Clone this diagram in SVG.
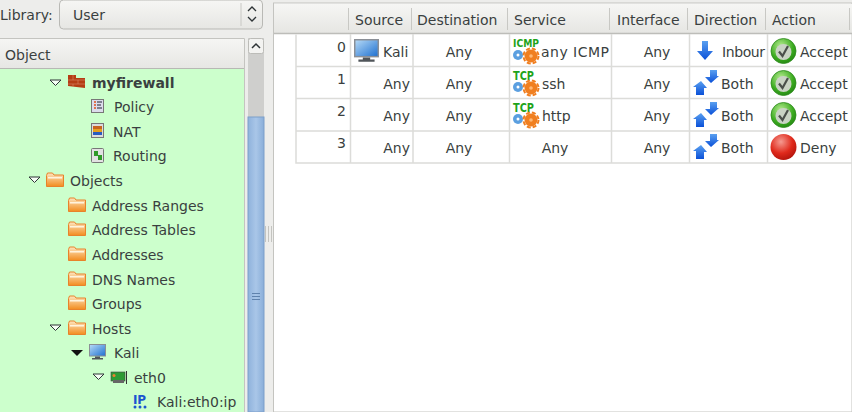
<svg xmlns="http://www.w3.org/2000/svg" width="852" height="412" viewBox="0 0 852 412">
<style>
text{font-family:"DejaVu Sans",sans-serif;font-size:14px;fill:#3a3f40}
.b{font-weight:bold}
.m{text-anchor:middle}
.e{text-anchor:end}
.grid{stroke:#dcdcd9;stroke-width:1.5;fill:none}
.sep{stroke:#c8c8c4;stroke-width:1}
.proto{font-weight:bold;fill:#1fa31a}
.tcp{font-size:12px}
.icmp{font-size:11px}
</style>
<defs>
<linearGradient id="hdr" x1="0" y1="0" x2="0" y2="1"><stop offset="0" stop-color="#f6f6f4"/><stop offset="1" stop-color="#e6e6e3"/></linearGradient>
<linearGradient id="thumb" x1="0" y1="0" x2="1" y2="0"><stop offset="0" stop-color="#8fb2dc"/><stop offset=".5" stop-color="#a9c6e8"/><stop offset="1" stop-color="#8aaed9"/></linearGradient>
<linearGradient id="fold" x1="0" y1="0" x2="0" y2="1"><stop offset="0" stop-color="#fde6c0"/><stop offset="1" stop-color="#f28c1e"/></linearGradient>
<linearGradient id="scr" x1="0" y1="0" x2="1" y2="1"><stop offset="0" stop-color="#b9dcf7"/><stop offset="1" stop-color="#1c6fd0"/></linearGradient>
<radialGradient id="grn" cx=".4" cy=".3" r=".8"><stop offset="0" stop-color="#b6ec90"/><stop offset=".6" stop-color="#3cab20"/><stop offset="1" stop-color="#1f7f10"/></radialGradient>
<radialGradient id="red" cx=".4" cy=".3" r=".8"><stop offset="0" stop-color="#f59a90"/><stop offset=".55" stop-color="#e02a1c"/><stop offset="1" stop-color="#a80f08"/></radialGradient>
<linearGradient id="arr" x1="0" y1="0" x2="0" y2="1"><stop offset="0" stop-color="#5aa0f0"/><stop offset="1" stop-color="#0a50d8"/></linearGradient>
<g id="folder"><path d="M0.5 3.5V14.500H17.500V3H8L6.500 1H1.500Z" fill="url(#fold)" stroke="#e8822a"/><rect x="2" y="5" width="14" height="1.500" fill="#fff3dd"/></g>
<g id="screenS"><rect x="0.5" y="0.5" width="16" height="11.500" fill="url(#scr)" stroke="#8a8f96"/><path d="M6 12.500H11V14H14V15.500H3V14H6Z" fill="#50555a"/></g>
<g id="svc"><circle cx="5" cy="0" r="5" fill="#5b9fe0"/><circle cx="5" cy="0" r="1.500" fill="#fff"/><circle cx="18" cy="1" r="6.500" fill="#f07f20"/><circle cx="18" cy="1" r="7.500" fill="none" stroke="#f07f20" stroke-width="2" stroke-dasharray="4 2"/><circle cx="18" cy="1" r="1.800" fill="#ffb874"/></g>
<g id="ok"><circle cx="13" cy="13" r="12.500" fill="url(#grn)" stroke="#2c8a1c" stroke-width=".8"/><circle cx="13" cy="14" r="8" fill="#c9d3c4"/><path d="M8.500 13.500L12 18L17.500 8" fill="none" stroke="#4a4f4a" stroke-width="2.200"/></g>
<g id="both"><path d="M0 17L8 11L14 18H11V25H3V17Z" fill="url(#arr)"/><path d="M17 0H24V6H26L18 13L12 7H17Z" fill="url(#arr)"/></g>
</defs>
<rect width="852" height="412" fill="#ededeb"/>

<g id="library">
<text x="0" y="20">Library:</text>
<rect x="59.500" y="0" width="203" height="29" rx="4" fill="url(#hdr)" stroke="#b9b9b5"/>
<text x="73" y="20">User</text>
<line x1="241" y1="3" x2="241" y2="26" class="sep"/>
<path d="M248 11L252 7L256 11M248 17L252 21L256 17" fill="none" stroke="#2e3436" stroke-width="1.300"/>
</g>

<g id="object-panel">
<rect x="0" y="38" width="245" height="31" fill="url(#hdr)"/>
<path d="M0 38.500H244.500V412" fill="none" stroke="#c4c4c0"/>
<line x1="0" y1="68.500" x2="244" y2="68.500" stroke="#b8b8b4"/>
<text x="5" y="60">Object</text>
<rect x="0" y="69" width="244" height="343" fill="#ccffcc"/>
</g>

<g id="scrollbar">
<rect x="248" y="38" width="16" height="374" fill="#cfcfcd"/>
<rect x="248.500" y="38.500" width="15" height="15" rx="2" fill="#f3f3f1" stroke="#bcbcb8"/>
<path d="M252 48L256 44L260 48" fill="none" stroke="#2e3436" stroke-width="1.500"/>
<rect x="248" y="117" width="16" height="295" fill="url(#thumb)" stroke="#7d9fca"/>
<path d="M252 293.500H260M252 296.500H260M252 299.500H260" stroke="#5f82ad"/>
</g>

<g id="tree-myfirewall">
<path d="M50 80H61L55.500 85.500Z" fill="#f5fff5" stroke="#2e3436"/>
<path d="M68 75H76V78H85V88L68 86Z" fill="#b53d14"/>
<path d="M68 80H85M68 84H85M73 75V80M78 80V84M73 84V87" stroke="#d98a68" stroke-width=".6" fill="none"/>
<text x="92" y="88" class="b">myfirewall</text>
</g>
<g id="tree-policy">
<rect x="91.500" y="99.500" width="12" height="13" fill="#dcdcec" stroke="#777"/>
<path d="M94 102H96M94 105H96M94 108H96" stroke="#e0501c" stroke-width="1.500"/><path d="M97 102H102M97 105H101M97 108H102" stroke="#223" stroke-width="1"/>
<text x="114" y="112">Policy</text></g>
<g id="tree-nat">
<rect x="91.500" y="123.500" width="12" height="14" fill="#dcdcdc" stroke="#777"/>
<rect x="93" y="126" width="9" height="3" fill="#c8641e"/><rect x="93" y="129" width="9" height="3" fill="#e6a020"/><rect x="93" y="132" width="9" height="3" fill="#2a5cc0"/>
<text x="113" y="137">NAT</text></g>
<g id="tree-routing">
<rect x="91.500" y="148.500" width="12" height="14" rx="1" fill="#e2e2e2" stroke="#777"/>
<path d="M94 151H98V155H102V160H98V156H94Z" fill="#2f9a28"/>
<text x="113" y="161">Routing</text></g>
<g id="tree-objects">
<path d="M29 177H40L34.500 182.500Z" fill="#f5fff5" stroke="#2e3436"/>
<use href="#folder" x="46" y="172"/>
<text x="70" y="186">Objects</text></g>
<g id="tree-address-ranges"><use href="#folder" x="68" y="197"/><text x="92" y="211">Address Ranges</text></g>
<g id="tree-address-tables"><use href="#folder" x="68" y="221"/><text x="92" y="235">Address Tables</text></g>
<g id="tree-addresses"><use href="#folder" x="68" y="246"/><text x="92" y="260">Addresses</text></g>
<g id="tree-dns"><use href="#folder" x="68" y="271"/><text x="92" y="285">DNS Names</text></g>
<g id="tree-groups"><use href="#folder" x="68" y="295"/><text x="92" y="309">Groups</text></g>
<g id="tree-hosts">
<path d="M50 325H61L55.500 330.500Z" fill="#f5fff5" stroke="#2e3436"/>
<use href="#folder" x="68" y="320"/><text x="92" y="334">Hosts</text></g>
<g id="tree-kali">
<path d="M71 350H83L77 356Z" fill="#111"/>
<use href="#screenS" x="89" y="344"/><text x="114" y="358">Kali</text></g>
<g id="tree-eth0">
<path d="M93 374H104L98.500 379.500Z" fill="#f5fff5" stroke="#2e3436"/>
<rect x="111" y="372" width="14" height="9" fill="#2d9a34" stroke="#444" stroke-width=".6"/><rect x="113" y="380" width="11" height="3" fill="#666"/><line x1="126.500" y1="371" x2="126.500" y2="384" stroke="#333"/><circle cx="114" cy="375.500" r="1.500" fill="#f08030"/>
<text x="134" y="383">eth0</text></g>
<g id="tree-ip">
<text x="133" y="404" style="font-size:12px;font-weight:bold;fill:#1a55d0" textLength="13">IP</text>
<g fill="#1a55d0"><circle cx="135" cy="407" r="1.500"/><circle cx="140" cy="407" r="1.500"/><circle cx="145" cy="407" r="1.500"/></g>
<text x="157" y="407">Kali:eth0:ip</text></g>

<g id="splitter" fill="#c4c4c0"><rect x="265" y="226" width="1" height="16"/><rect x="268" y="226" width="1" height="16"/><rect x="271" y="226" width="1" height="16"/></g>

<g id="rules-header">
<rect x="273.500" y="3" width="578.500" height="409" fill="#fff" stroke="#c4c4c0"/>
<rect x="274" y="4" width="578" height="29" fill="url(#hdr)"/>
<line x1="274" y1="33.500" x2="852" y2="33.500" stroke="#bdbdb9" stroke-width="1.500"/>
<path d="M348.500 8V30M411.500 8V30M507.500 8V30M609.500 8V30M687.500 8V30M765.500 8V30M849.500 8V30" class="sep"/>
<text x="355" y="25">Source</text>
<text x="417" y="25">Destination</text>
<text x="514" y="25">Service</text>
<text x="617" y="25">Interface</text>
<text x="694" y="25">Direction</text>
<text x="772" y="25">Action</text>
</g>

<g id="rules-grid" class="grid">
<path d="M296 34.500V163H852M296 66.500H852M296 98.500H852M296 131H852"/>
<path d="M350.500 34V163M413 34V163M509.500 34V163M611.500 34V163M689.500 34V163M767.500 34V163"/>
</g>

<g id="rule-0">
<text x="346" y="52" class="e">0</text>
<use href="#screenS" transform="translate(354 39) scale(1.470)"/>
<text x="383" y="57">Kali</text>
<text x="459" y="57" class="m">Any</text>
<text x="513" y="47" class="proto icmp" textLength="26" lengthAdjust="spacingAndGlyphs">ICMP</text>
<use href="#svc" x="513" y="55"/>
<text x="541" y="57" textLength="68">any ICMP</text>
<text x="657" y="57" class="m">Any</text>
<path d="M702 41H708V51H713L705 60L697 51H702Z" fill="url(#arr)"/>
<text x="722" y="57" textLength="43">Inbour</text>
<use href="#ok" x="770.500" y="38"/>
<text x="800" y="57">Accept</text>
</g>
<g id="rule-1">
<text x="346" y="84" class="e">1</text>
<text x="410" y="89" class="e">Any</text>
<text x="459" y="89" class="m">Any</text>
<text x="513" y="80" class="proto tcp" textLength="21" lengthAdjust="spacingAndGlyphs">TCP</text>
<use href="#svc" x="513" y="87"/>
<text x="542" y="89">ssh</text>
<text x="657" y="89" class="m">Any</text>
<use href="#both" x="693" y="70"/>
<text x="721" y="89">Both</text>
<use href="#ok" x="770.500" y="70"/>
<text x="800" y="89">Accept</text>
</g>
<g id="rule-2">
<text x="346" y="116" class="e">2</text>
<text x="410" y="121" class="e">Any</text>
<text x="459" y="121" class="m">Any</text>
<text x="513" y="112" class="proto tcp" textLength="21" lengthAdjust="spacingAndGlyphs">TCP</text>
<use href="#svc" x="513" y="119"/>
<text x="542" y="121">http</text>
<text x="657" y="121" class="m">Any</text>
<use href="#both" x="693" y="102"/>
<text x="721" y="121">Both</text>
<use href="#ok" x="770.500" y="102"/>
<text x="800" y="121">Accept</text>
</g>
<g id="rule-3">
<text x="346" y="148" class="e">3</text>
<text x="410" y="153" class="e">Any</text>
<text x="459" y="153" class="m">Any</text>
<text x="555" y="153" class="m">Any</text>
<text x="657" y="153" class="m">Any</text>
<use href="#both" x="693" y="134"/>
<text x="721" y="153">Both</text>
<circle cx="783.500" cy="147" r="13" fill="url(#red)"/>
<text x="800" y="153">Deny</text>
</g>
</svg>
